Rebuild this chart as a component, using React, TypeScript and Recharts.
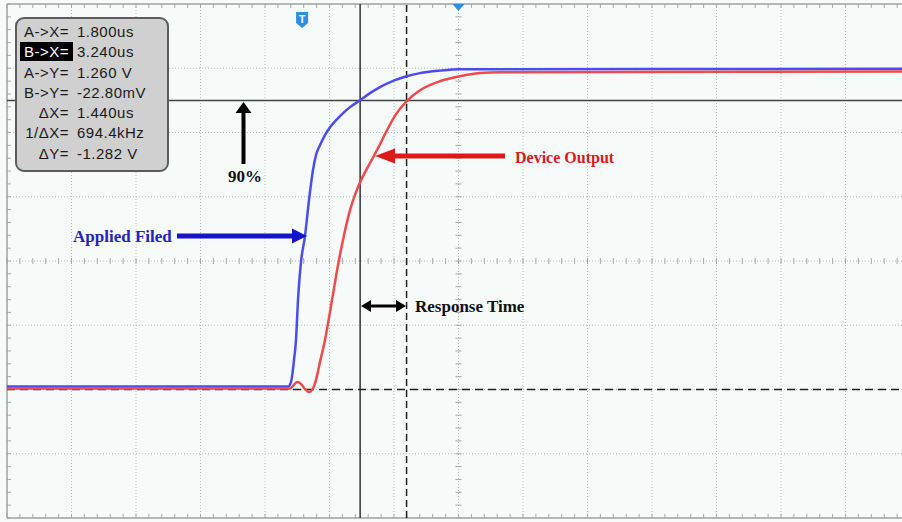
import { LineChart, Line, XAxis, YAxis, ReferenceLine, ReferenceDot } from 'recharts';

// scope settings: 2 us/div over 14 divisions, trigger at t = 0
const T_MIN = -9.15;
const T_DIV = 2;
const X_DIVS = 14;
const T_MAX = T_MIN + T_DIV * X_DIVS;

// cursor readings
const CURSOR_AX = 1.8;
const CURSOR_BX = 3.24;
const CURSOR_AY = 1.26;
const CURSOR_BY = -0.0228;

// 8 vertical divisions, cursor A is 4.5 div above cursor B
const Y_DIVS = 8;
const V_DIV = (CURSOR_AY - CURSOR_BY) / 4.5;
const V_CENTER = CURSOR_BY + 2 * V_DIV;
const V_MIN = V_CENTER - 4 * V_DIV;
const V_MAX = V_CENTER + 4 * V_DIV;

// Applied field (blue), time in us, value in V
const BLUE_T = [-9.15, -0.437, -0.344, -0.251, -0.189, -0.127, -0.034, 0.09, 0.214, 0.338, 0.431, 0.555, 0.71, 0.866, 1.176, 1.486, 1.8, 2.106, 2.416, 2.881, 3.24, 3.656, 4.276, 4.896, 18.85];
const BLUE_V = [-0.01, -0.01, 0.01, 0.108, 0.197, 0.374, 0.543, 0.658, 0.817, 0.951, 1.017, 1.061, 1.106, 1.141, 1.19, 1.23, 1.261, 1.292, 1.319, 1.35, 1.367, 1.381, 1.392, 1.398, 1.4];

// Device output (red)
const RED_T = [-9.15, -0.375, -0.282, -0.158, -0.034, 0.09, 0.214, 0.307, 0.431, 0.555, 0.71, 0.928, 1.114, 1.3, 1.486, 1.672, 1.858, 2.106, 2.354, 2.602, 2.912, 3.24, 3.656, 4.276, 4.896, 5.516, 6.137, 18.85];
const RED_V = [-0.018, -0.018, -0.007, 0.01, 0.002, -0.021, -0.034, -0.025, 0.019, 0.099, 0.197, 0.374, 0.529, 0.662, 0.773, 0.853, 0.915, 0.982, 1.048, 1.119, 1.199, 1.256, 1.305, 1.345, 1.367, 1.381, 1.385, 1.388];

const MEAS_LABELS = ['A->X=', 'B->X=', 'A->Y=', 'B->Y=', '\u0394X=', '1/\u0394X=', '\u0394Y='];
const MEAS_VALUES = ['1.800us', '3.240us', '1.260 V', '-22.80mV', '1.440us', '694.4kHz', '-1.282 V'];

const blueData = BLUE_T.map((t, i) => ({ t, v: BLUE_V[i] }));
const redData = RED_T.map((t, i) => ({ t, v: RED_V[i] }));

const PLOT_W = 903;
const PLOT_H = 514;
const PX_T = (T_MAX - T_MIN) / PLOT_W; // us per pixel
const PX_V = (V_MAX - V_MIN) / PLOT_H; // V per pixel

const xMajor = Array.from({ length: X_DIVS + 1 }, (_, i) => T_MIN + i * T_DIV);
const yMajor = Array.from({ length: Y_DIVS + 1 }, (_, i) => V_MIN + i * V_DIV);
const xMinor = Array.from({ length: X_DIVS * 5 + 1 }, (_, i) => T_MIN + (i * T_DIV) / 5);
const yMinor = Array.from({ length: Y_DIVS * 5 + 1 }, (_, i) => V_MIN + (i * V_DIV) / 5);
const T_CENTER = T_MIN + (X_DIVS / 2) * T_DIV;

const BG = '#f6faf8';
const GRID = '#b9bdbb';
const TICK = '#a5a9a7';
const BORDER = '#9fa3a1';

function seg(x1: number, y1: number, x2: number, y2: number, key: string, stroke = TICK) {
  return (
    <ReferenceLine
      key={key}
      segment={[{ x: x1, y: y1 }, { x: x2, y: y2 }]}
      stroke={stroke}
      strokeWidth={1}
      ifOverflow="visible"
    />
  );
}

export default function App() {
  const tickT = 4 * PX_T;
  const tickV = 4 * PX_V;
  const crossT = 3 * PX_T;
  const crossV = 3 * PX_V;

  return (
    <div style={{ position: 'absolute', left: 0, top: 0, width: 902, height: 522, overflow: 'hidden', background: BG, fontFamily: '"Liberation Sans", Arial, sans-serif' }}>
      <LineChart width={918} height={522} margin={{ top: 4, right: 8, bottom: 4, left: 7 }}>
        <XAxis type="number" dataKey="t" domain={[T_MIN, T_MAX]} hide allowDataOverflow />
        <YAxis type="number" dataKey="v" domain={[V_MIN, V_MAX]} hide allowDataOverflow />

        {xMajor.slice(1, -1).map((t, i) => (
          <ReferenceLine key={`gx${i}`} x={t} stroke={GRID} strokeDasharray="1 2" ifOverflow="visible" />
        ))}
        {yMajor.slice(1, -1).map((v, i) => (
          <ReferenceLine key={`gy${i}`} y={v} stroke={GRID} strokeDasharray="1 2" ifOverflow="visible" />
        ))}

        {xMinor.map((t, i) => seg(t, V_MAX, t, V_MAX - tickV, `tt${i}`))}
        {xMinor.map((t, i) => seg(t, V_MIN, t, V_MIN + tickV, `tb${i}`))}
        {yMinor.map((v, i) => seg(T_MIN, v, T_MIN + tickT, v, `tl${i}`))}
        {xMinor.map((t, i) => seg(t, V_CENTER - crossV, t, V_CENTER + crossV, `tc${i}`))}
        {yMinor.map((v, i) => seg(T_CENTER - crossT, v, T_CENTER + crossT, v, `tm${i}`))}

        <ReferenceLine x={T_MIN} stroke={BORDER} strokeWidth={1.5} ifOverflow="visible" />
        <ReferenceLine y={V_MAX} stroke={BORDER} strokeWidth={1.5} ifOverflow="visible" />
        <ReferenceLine y={V_MIN} stroke={BORDER} strokeWidth={1.5} ifOverflow="visible" />

        <ReferenceLine x={CURSOR_AX} stroke="#333333" strokeWidth={1.5} ifOverflow="visible" />
        <ReferenceLine x={CURSOR_BX} stroke="#222222" strokeWidth={1.5} strokeDasharray="7 4" ifOverflow="visible" />
        <ReferenceLine y={CURSOR_AY} stroke="#444444" strokeWidth={1.5} ifOverflow="visible" />
        <ReferenceLine y={CURSOR_BY} stroke="#222222" strokeWidth={1.5} strokeDasharray="8 5" ifOverflow="visible" />

        <Line data={blueData} dataKey="v" type="monotone" stroke="#4b4bf2" strokeWidth={2.5} dot={false} isAnimationActive={false} />
        <Line data={redData} dataKey="v" type="monotone" stroke="#f04a4a" strokeWidth={2.5} dot={false} isAnimationActive={false} />

        <ReferenceDot
          x={0}
          y={V_MAX}
          ifOverflow="visible"
          shape={(p: any) => (
            <g>
              <path d={`M${p.cx - 6},${p.cy + 8} h12 v11 l-6,5 l-6,-5 z`} fill="#2b8fe2" />
              <text x={p.cx} y={p.cy + 19} textAnchor="middle" fontSize={11} fontWeight="bold" fill="#ffffff" fontFamily="Liberation Sans, Arial">T</text>
            </g>
          )}
        />
        <ReferenceDot
          x={T_CENTER}
          y={V_MAX}
          ifOverflow="visible"
          shape={(p: any) => <path d={`M${p.cx - 6},${p.cy} L${p.cx + 6},${p.cy} L${p.cx},${p.cy + 7} z`} fill="#2b8fe2" />}
        />
      </LineChart>

      <div
        style={{
          position: 'absolute', left: 15, top: 17, width: 150, height: 148,
          border: '2px solid #5c5c5c', borderRadius: 9, background: '#cfd0cf',
          paddingTop: 3, boxSizing: 'content-box',
        }}
      >
        {MEAS_LABELS.map((lab, i) => (
          <div key={lab} style={{ height: 20.3, lineHeight: '20.3px', fontSize: 15, letterSpacing: 0.5, color: '#1a1a1a', whiteSpace: 'nowrap' }}>
            <span style={{ display: 'inline-block', width: 52, textAlign: 'right' }}>
              {i === 1 ? (
                <span style={{ background: '#000', color: '#fff', padding: '1px 4px 1px 4px', marginRight: -4 }}>{lab}</span>
              ) : lab}
            </span>
            <span style={{ marginLeft: 8 }}>{MEAS_VALUES[i]}</span>
          </div>
        ))}
      </div>

      <svg width={902} height={522} style={{ position: 'absolute', left: 0, top: 0, pointerEvents: 'none' }}>
        <rect x={241.5} y={112} width={4} height={52} fill="#000" />
        <polygon points="235.5,113 243.5,102 251.5,113" fill="#000" />
        <text x={245} y={182} textAnchor="middle" fontSize={17} fontWeight="bold" fontFamily="Liberation Serif, Times New Roman, serif" fill="#111">90%</text>

        <rect x={393} y={153.5} width={112} height={5} fill="#dd1a1a" />
        <polygon points="375,156 395,148.5 395,163.5" fill="#dd1a1a" />
        <text x={515} y={163} fontSize={16} fontWeight="bold" fontFamily="Liberation Serif, Times New Roman, serif" fill="#dd1a1a">Device Output</text>

        <rect x={177} y={233.5} width={117} height={5} fill="#1414c8" />
        <polygon points="307,236 292,228.5 292,243.5" fill="#1414c8" />
        <text x={73} y={242} fontSize={17} fontWeight="bold" fontFamily="Liberation Serif, Times New Roman, serif" fill="#2323c8">Applied Filed</text>

        <rect x={369} y={304.5} width={29} height={3} fill="#000" />
        <polygon points="361,306 371,300 371,312" fill="#000" />
        <polygon points="406,306 396,300 396,312" fill="#000" />
        <text x={415} y={312} fontSize={17} fontWeight="bold" fontFamily="Liberation Serif, Times New Roman, serif" fill="#111">Response Time</text>
      </svg>
    </div>
  );
}
